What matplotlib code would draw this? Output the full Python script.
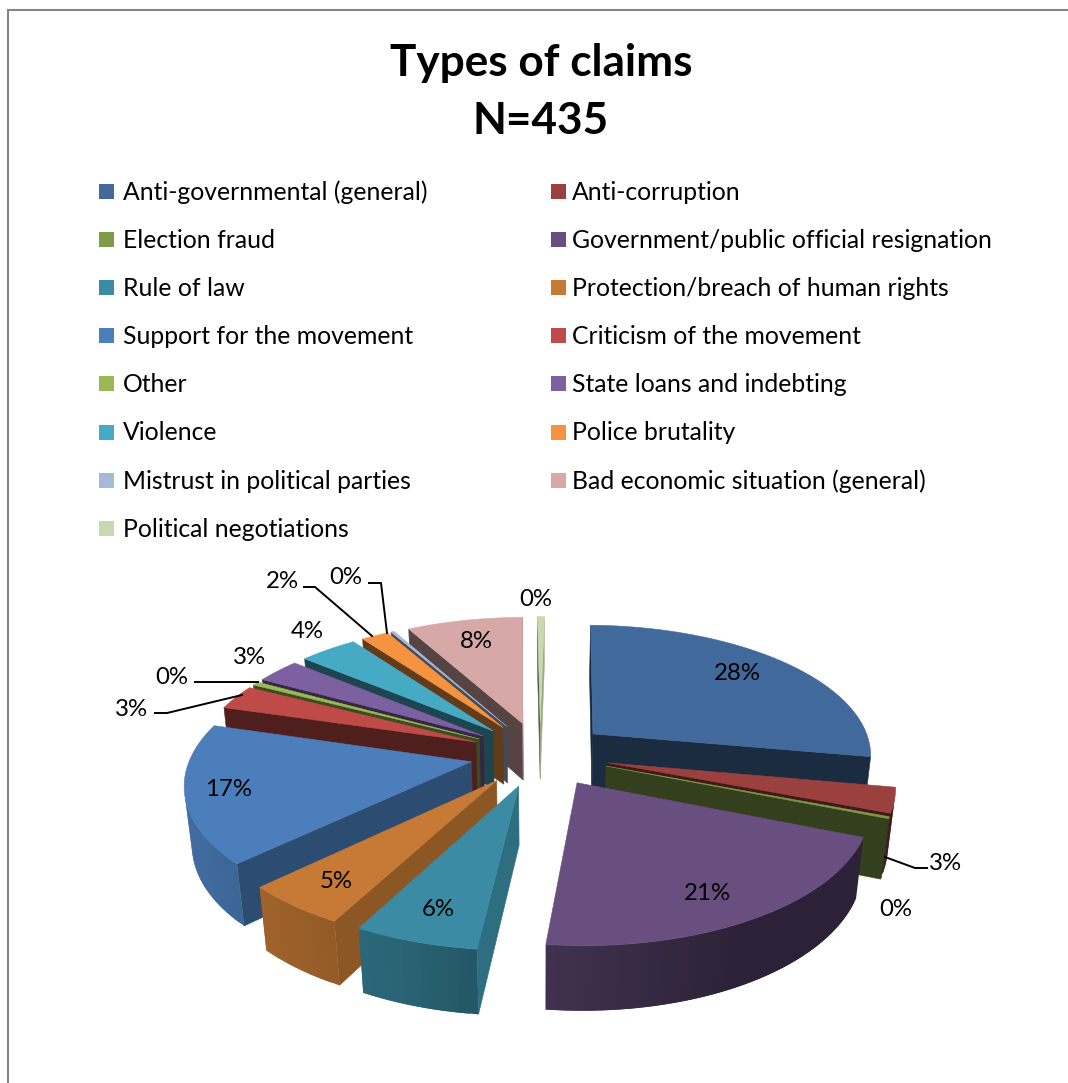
import numpy as np
import matplotlib
matplotlib.use("Agg")
import matplotlib.pyplot as plt
from matplotlib.patches import Polygon, Rectangle

plt.rcParams['font.family'] = ['Lato', 'DejaVu Sans']

title_lines = ["Types of claims", "N=435"]

categories = ["Anti-governmental (general)", "Anti-corruption", "Election fraud",
              "Government/public official resignation", "Rule of law",
              "Protection/breach of human rights", "Support for the movement",
              "Criticism of the movement", "Other", "State loans and indebting",
              "Violence", "Police brutality", "Mistrust in political parties",
              "Bad economic situation (general)", "Political negotiations"]
counts = [120, 13, 1, 90, 26, 22, 73, 13, 2, 13, 17, 8, 1, 34, 2]
colors = ["#41699c", "#9a403e", "#7f9a48", "#684f80", "#3a8ba3", "#c67a35", "#4b7eba",
          "#be4b48", "#98b954", "#7d60a0", "#46aac5", "#f59341", "#a7b9d8", "#d6a8a7", "#c8d9ae"]

# percentage label centres, same order as categories
label_x = [737, 946, 896, 707, 438, 336, 229, 132, 172, 250, 307, 282, 346, 476, 536]
label_y = [672, 862, 907, 892, 908, 880, 788, 708, 676, 656, 629, 580, 575, 639, 597]

# leader lines drawn as (x points, y points)
leaders = [([885, 915, 927], [857, 868, 868]),
           ([155, 167, 242], [713, 713, 695]),
           ([195, 258], [682, 682]),
           ([304, 315, 372], [587, 587, 636]),
           ([369, 381, 387], [583, 583, 633])]

# pie geometry
cx, cy = 540, 754
first_angle = np.radians(1.0)
radius = 280
explode = 70
height = 59
persp = 0.00052
squash = 0.464
converge = 0.00036

# how dark the side walls get, by the direction they face
radial_dir = [0, 95, 117, 135, 190, 240, 360]
radial_light = [0.40, 0.80, 0.71, 0.61, 0.41, 0.40, 0.36]
outer_dir = [90, 150, 185, 200, 216, 240, 290]
outer_light = [0.42, 0.42, 0.62, 0.72, 0.78, 0.85, 0.88]


def project(X, Y, z):
    w = 1 + Y * persp + z * converge
    return np.column_stack((cx + X / w, cy + (-Y * squash + z) / w))


def shade(color, factor):
    return np.array(matplotlib.colors.to_rgb(color)) * factor


def faces_viewer(a, b, c, d):
    # shoelace with y flipped, top edge runs clockwise
    pts = np.array([a, b, c, d])
    x, y = pts[:, 0], -pts[:, 1]
    return np.sum(x * np.roll(y, -1) - np.roll(x, -1) * y) > 0


def add_poly(ax, pts, col, z, edge=True):
    ax.add_patch(Polygon(pts, closed=True, facecolor=col, edgecolor=col if edge else 'none',
                         linewidth=0.4 if edge else 0, zorder=z))


def draw_slice(ax, start, end, col, z):
    mid = (start + end) / 2
    ox = explode * np.sin(mid)
    oy = explode * np.cos(mid)
    n = max(3, int(np.degrees(end - start) / 1.5))
    t = np.linspace(start, end, n)
    X = np.r_[ox, ox + radius * np.sin(t)]
    Y = np.r_[oy, oy + radius * np.cos(t)]
    top = project(X, Y, 0)
    bottom = project(X, Y, height)

    count = len(X)
    for i in range(count):
        j = (i + 1) % count
        if not faces_viewer(top[i], top[j], bottom[j], bottom[i]):
            continue
        quad = [top[i], top[j], bottom[j], bottom[i]]
        if i == 0:
            light = np.interp(np.degrees(start - np.pi / 2) % 360, radial_dir, radial_light)
            add_poly(ax, quad, shade(col, light), z)
        elif j == 0:
            light = np.interp(np.degrees(end + np.pi / 2) % 360, radial_dir, radial_light)
            add_poly(ax, quad, shade(col, light), z)
        else:
            # stretch each strip over the next one so no seams show
            k = min(j + 1, count - 1)
            quad = [top[i], top[k], bottom[k], bottom[i]]
            light = np.interp(np.degrees(t[i - 1]), outer_dir, outer_light)
            add_poly(ax, quad, shade(col, light), z, edge=False)
    add_poly(ax, top, col, z + 0.5)


fig = plt.figure(figsize=(10.68, 10.83), dpi=100)
ax = fig.add_axes([0, 0, 1, 1])
ax.set_xlim(0, 1068)
ax.set_ylim(1083, 0)
ax.axis('off')

# chart frame
ax.plot([8, 8, 1068], [1083, 10, 10], color="#868686", linewidth=1.5, solid_joinstyle='miter')

for line, y in zip(title_lines, [63, 121]):
    ax.text(541, y, line, ha='center', va='center', fontsize=31.8, fontweight='bold', color='black')

# legend runs in two columns
for i, name in enumerate(categories):
    row = i // 2
    col = i % 2
    y = 191 + row * 48.2
    ax.add_patch(Rectangle((99 + col * 452, y - 7.5), 14.5, 15, facecolor=colors[i]))
    ax.text(123 + col * 449, y - 1, name, ha='left', va='center_baseline', fontsize=17.8, color='black')

values = np.array(counts) / sum(counts)
edges = first_angle + np.r_[0, np.cumsum(values)] * 2 * np.pi
mids = (edges[:-1] + edges[1:]) / 2

# far slices first so nearer ones paint over them
order = np.argsort(-np.cos(mids))
for rank, i in enumerate(order):
    draw_slice(ax, edges[i], edges[i + 1], colors[i], 2 + rank)

for lx, ly in leaders:
    ax.plot(lx, ly, color='black', linewidth=1.4, zorder=30)

for i, v in enumerate(values):
    ax.text(label_x[i], label_y[i], f"{v * 100:.0f}%", ha='center', va='center_baseline',
            fontsize=17.3, color='black', zorder=31)

fig.savefig("out.png", dpi=100)
